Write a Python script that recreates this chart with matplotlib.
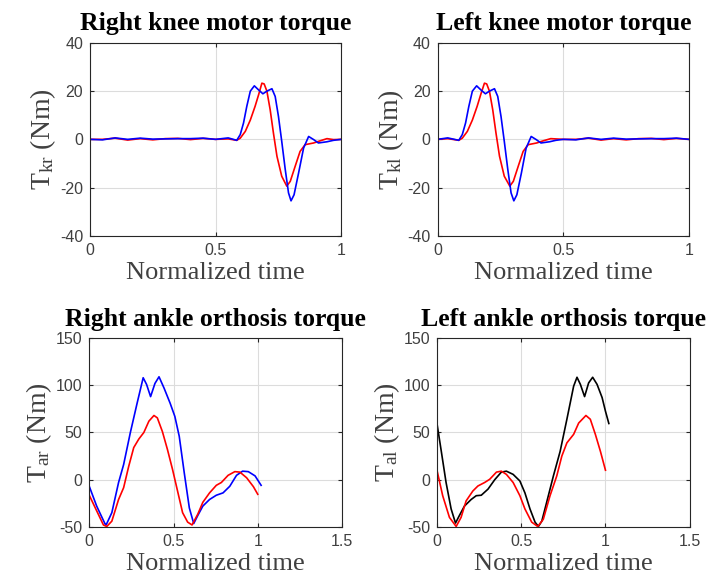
import numpy as np
import matplotlib.pyplot as plt

plt.rcParams['font.family'] = ['Liberation Sans', 'DejaVu Sans']
plt.rcParams['mathtext.fontset'] = 'custom'
plt.rcParams['mathtext.rm'] = 'Liberation Serif'
plt.rcParams['mathtext.it'] = 'Liberation Serif:italic'

# right knee motor torque
rk_t_red = [0, 0.05, 0.1, 0.15, 0.2, 0.25, 0.3, 0.35, 0.4, 0.45, 0.5, 0.55, 0.584,
            0.598, 0.618, 0.638, 0.657, 0.671, 0.684, 0.693, 0.704, 0.717, 0.73, 0.744,
            0.763, 0.783, 0.797, 0.817, 0.836, 0.856, 0.89, 0.916, 0.943, 0.969, 1.0]
rk_v_red = [0, 0, 0.5, -0.3, 0.3, -0.2, 0.3, 0.4, -0.1, 0.4, 0, 0.2, -0.4,
            0.5, 3.3, 8, 13.7, 18.5, 23.3, 23, 20, 12.3, 2.6, -7,
            -15.3, -19.4, -17.4, -11, -5, -2.2, -1.5, -0.6, 0.3, -0.1, 0]
rk_t_blue = [0, 0.05, 0.1, 0.15, 0.2, 0.25, 0.3, 0.35, 0.4, 0.45, 0.5, 0.55, 0.584,
             0.598, 0.611, 0.624, 0.638, 0.654, 0.671, 0.688, 0.704, 0.724, 0.737, 0.75,
             0.763, 0.777, 0.79, 0.8, 0.812, 0.83, 0.85, 0.87, 0.89, 0.909, 0.943, 0.969, 1.0]
rk_v_blue = [0, -0.2, 0.6, 0, 0.5, 0.1, 0.2, 0.3, 0.3, 0.5, 0, 0.6, -0.4,
             2, 6.8, 13.7, 20, 22.2, 20.5, 18.9, 20, 21, 17.8, 9.5,
             -0.8, -12.5, -22.2, -25.5, -23, -14, -3.6, 1.2, -0.1, -1.5, -1, -0.4, 0]

# left knee motor torque
lk_t_red = [0, 0.04, 0.084, 0.098, 0.118, 0.138, 0.157, 0.171, 0.186, 0.195, 0.206,
            0.219, 0.232, 0.246, 0.265, 0.287, 0.301, 0.321, 0.34, 0.36, 0.394, 0.42,
            0.45, 0.5, 0.55, 0.6, 0.65, 0.7, 0.75, 0.8, 0.85, 0.9, 0.95, 1.0]
lk_v_red = [0, 0.3, -0.4, 0.5, 3.3, 8, 13.7, 18.5, 23.3, 23, 20,
            12.3, 2.6, -7, -15.3, -19.4, -17.4, -11, -5, -2.2, -1.5, -0.6,
            0.3, 0, 0, 0.5, -0.3, 0.3, -0.2, 0.3, 0.4, -0.1, 0.4, 0]
lk_t_blue = [0, 0.04, 0.084, 0.098, 0.111, 0.124, 0.138, 0.155, 0.172, 0.19, 0.206,
             0.226, 0.239, 0.252, 0.265, 0.279, 0.292, 0.303, 0.315, 0.333, 0.352, 0.372,
             0.392, 0.411, 0.445, 0.47, 0.5, 0.55, 0.6, 0.65, 0.7, 0.75, 0.8, 0.85,
             0.9, 0.95, 1.0]
lk_v_blue = [0, 0.6, -0.4, 2, 6.8, 13.7, 20, 22.2, 20.5, 18.9, 20,
             21, 17.8, 9.5, -0.8, -12.5, -22.2, -25.5, -23, -14, -3.6, 1.2,
             -0.1, -1.5, -1, -0.4, 0, -0.2, 0.6, 0, 0.5, 0.1, 0.2, 0.3,
             0.3, 0.5, 0]

# right ankle orthosis torque
ra_t_blue = [0, 0.044, 0.094, 0.1, 0.134, 0.174, 0.204, 0.244, 0.284, 0.32, 0.34,
             0.364, 0.39, 0.414, 0.444, 0.48, 0.508, 0.534, 0.564, 0.594, 0.62, 0.644,
             0.674, 0.714, 0.754, 0.794, 0.834, 0.874, 0.91, 0.944, 0.984, 1.02]
ra_v_blue = [-7, -28, -47, -48, -35, -3, 16, 50, 81, 108, 101,
             88, 102, 109, 97, 81, 67, 46, 7, -30, -46.5, -38,
             -28, -21, -16.5, -14, -7, 4.6, 9, 8.5, 4, -6]
ra_t_red = [0, 0.044, 0.084, 0.104, 0.134, 0.174, 0.204, 0.234, 0.264, 0.294, 0.324,
            0.354, 0.384, 0.404, 0.434, 0.464, 0.494, 0.524, 0.554, 0.584, 0.61, 0.644,
            0.674, 0.714, 0.754, 0.784, 0.824, 0.864, 0.894, 0.934, 0.974, 1.0]
ra_v_red = [-16.5, -33, -48, -49.6, -44, -21, -8.5, 14, 34, 43, 50,
            62, 68, 65.5, 51, 32, 11, -12, -35, -45, -48, -36.6,
            -24, -14, -6, -3, 4.6, 8.5, 8, 2, -7.4, -15.5]

# left ankle orthosis torque
la_t_black = [0, 0.024, 0.054, 0.084, 0.11, 0.133, 0.163, 0.203, 0.233, 0.263, 0.303,
              0.343, 0.382, 0.412, 0.452, 0.492, 0.522, 0.552, 0.582, 0.602, 0.622,
              0.651, 0.691, 0.731, 0.771, 0.811, 0.831, 0.851, 0.876, 0.9, 0.924,
              0.95, 0.98, 1.0, 1.02]
la_v_black = [59.5, 32, -3, -31, -46, -38, -28, -21, -17, -16.5, -10,
              0, 8, 9, 5.6, -1.4, -14, -31, -45, -49.6, -44,
              -24, 4, 30, 64, 99, 108.5, 101, 88, 102.5, 108.5,
              101, 87, 72.5, 59.5]
la_t_red = [0, 0.034, 0.074, 0.114, 0.143, 0.173, 0.213, 0.243, 0.283, 0.313, 0.353,
            0.382, 0.412, 0.452, 0.492, 0.522, 0.562, 0.598, 0.631, 0.671, 0.711,
            0.741, 0.771, 0.811, 0.841, 0.884, 0.91, 0.94, 0.97, 1.0]
la_v_red = [10, -17, -40, -49.6, -40, -22.5, -12, -6.7, -3, 0.4, 8,
            9, 5.6, -3, -17, -31, -45, -49.6, -42, -17, 4,
            25, 39, 48, 60, 68, 64, 48, 30, 10]

serif = ['Liberation Serif', 'DejaVu Serif']
grid_c = '#dcdcdc'
axis_c = '#262626'
tick_c = '#404040'


def style_axes(ax, title, ylabel, xlim, xticks, ylim, yticks):
    ax.set_xlim(xlim)
    ax.set_ylim(ylim)
    ax.set_xticks(xticks)
    ax.set_yticks(yticks)
    ax.set_xticklabels([f'{v:g}' for v in xticks])
    ax.set_yticklabels([f'{v:g}' for v in yticks])
    ax.grid(True, color=grid_c, linewidth=0.8)
    ax.set_axisbelow(True)
    ax.tick_params(direction='in', top=True, right=True, length=3,
                   labelsize=11.5, colors=axis_c, labelcolor=tick_c, pad=5)
    for s in ax.spines.values():
        s.set_color(axis_c)
        s.set_linewidth(0.8)
    ax.set_title(title, family=serif, fontweight='bold', fontsize=18.5, pad=9)
    ax.set_ylabel(ylabel, family=serif, fontsize=20, labelpad=1, color=tick_c)
    ax.set_xlabel('Normalized time', family=serif, fontsize=19, labelpad=3,
                  color=tick_c)


fig = plt.figure(figsize=(7.14, 5.88), dpi=100)
ax1 = fig.add_axes([0.126, 0.599, 0.352, 0.328])
ax2 = fig.add_axes([0.613, 0.599, 0.352, 0.328])
ax3 = fig.add_axes([0.125, 0.104, 0.354, 0.321])
ax4 = fig.add_axes([0.612, 0.104, 0.354, 0.321])

lw = 1.2
ax1.plot(rk_t_red, rk_v_red, color='#ff0000', lw=lw)
ax1.plot(rk_t_blue, rk_v_blue, color='#0000ff', lw=lw)
style_axes(ax1, 'Right knee motor torque', r'T$_{\mathrm{kr}}$ (Nm)',
           (0, 1), [0, 0.5, 1], (-40, 40), [-40, -20, 0, 20, 40])

ax2.plot(lk_t_red, lk_v_red, color='#ff0000', lw=lw)
ax2.plot(lk_t_blue, lk_v_blue, color='#0000ff', lw=lw)
style_axes(ax2, 'Left knee motor torque', r'T$_{\mathrm{kl}}$ (Nm)',
           (0, 1), [0, 0.5, 1], (-40, 40), [-40, -20, 0, 20, 40])

ax3.plot(ra_t_blue, ra_v_blue, color='#0000ff', lw=lw)
ax3.plot(ra_t_red, ra_v_red, color='#ff0000', lw=lw)
style_axes(ax3, 'Right ankle orthosis torque', r'T$_{\mathrm{ar}}$ (Nm)',
           (0, 1.5), [0, 0.5, 1, 1.5], (-50, 150), [-50, 0, 50, 100, 150])

ax4.plot(la_t_black, la_v_black, color='#000000', lw=lw)
ax4.plot(la_t_red, la_v_red, color='#ff0000', lw=lw)
style_axes(ax4, 'Left ankle orthosis torque', r'T$_{\mathrm{al}}$ (Nm)',
           (0, 1.5), [0, 0.5, 1, 1.5], (-50, 150), [-50, 0, 50, 100, 150])

fig.savefig('out.png', dpi=100)
